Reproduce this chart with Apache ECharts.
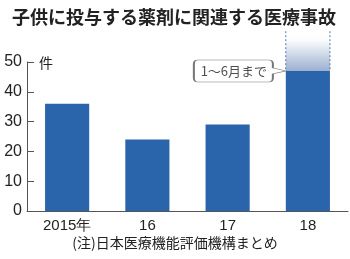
<!DOCTYPE html>
<html><head><meta charset="utf-8">
<script src="https://cdn.jsdelivr.net/npm/echarts@6/dist/echarts.min.js"></script>
<style>html,body{margin:0;padding:0;background:#fff}#c{width:350px;height:259px}</style>
</head><body><div id="c"></div>
<script>
const titleText = '子供に投与する薬剤に関連する医療事故';
const noteText = '(注)日本医療機能評価機構まとめ';
const unitText = '件';
const categories = ['2015年', '16', '17', '18'];
const values = [36, 24, 29, 47];
const partialNote = '1～6月まで';
const projectedTop = [null, null, null, 59];
const yTicks = [0, 10, 20, 30, 40, 50];

const BLUE = '#2a65ab';
const numFont = '"Liberation Sans Narrow","Liberation Sans",Arial,sans-serif';
const jpFont = '"Noto Sans CJK JP",sans-serif';

const chart = echarts.init(document.getElementById('c'), null, {renderer: 'canvas'});
const projData = projectedTop.map((t, i) => t == null ? null : [i, values[i], t]).filter(d => d);

chart.setOption({
  animation: false,
  title: [
    {text: titleText, left: 7, top: 3,
     textStyle: {fontFamily: jpFont, fontSize: 18, fontWeight: 'bold', color: '#222'}},
    {text: noteText, left: 'center', bottom: 4,
     textStyle: {fontFamily: jpFont, fontSize: 14, fontWeight: 'normal', color: '#222'}}
  ],
  grid: {left: 27, right: 2, top: 62, bottom: 48},
  xAxis: {
    type: 'category', data: categories,
    axisLine: {lineStyle: {color: '#555', width: 1}},
    axisTick: {show: false},
    axisLabel: {margin: 7, fontFamily: numFont, fontSize: 15, color: '#222'}
  },
  yAxis: {
    type: 'value', min: yTicks[0], max: yTicks[yTicks.length - 1], interval: 10,
    name: unitText, nameLocation: 'end', nameGap: -1,
    nameTextStyle: {fontFamily: jpFont, fontSize: 14, color: '#222', align: 'left', verticalAlign: 'middle', padding: [0, 0, 0, 12]},
    axisLine: {show: true, lineStyle: {color: '#555', width: 1}},
    axisTick: {show: true, inside: true, length: 7, lineStyle: {color: '#555'}},
    axisLabel: {margin: 5, fontFamily: numFont, fontSize: 16, color: '#222'},
    splitLine: {show: false}
  },
  series: [
    {
      type: 'bar', data: values, barWidth: '55%',
      itemStyle: {color: BLUE}
    },
    {
      type: 'custom', clip: false, z: 1,
      data: projData,
      renderItem: function (params, api) {
        const top = api.coord([api.value(0), api.value(2)]);
        const base = api.coord([api.value(0), api.value(1)]);
        const w = api.size([1, 0])[0] * 0.55;
        const x0 = top[0] - w / 2, x1 = top[0] + w / 2;
        return {
          type: 'group',
          children: [
            {type: 'rect', shape: {x: x0, y: top[1], width: w, height: base[1] - top[1]},
             style: {fill: new echarts.graphic.LinearGradient(0, 0, 0, 1, [
               {offset: 0, color: 'rgba(255,255,255,1)'},
               {offset: 0.15, color: 'rgba(250,251,253,1)'},
               {offset: 1, color: '#9bb0cf'}])}},
            {type: 'line', shape: {x1: x0, y1: top[1] - 4, x2: x0, y2: base[1]},
             style: {stroke: '#4f77b0', lineWidth: 1, lineDash: [2, 2]}},
            {type: 'line', shape: {x1: x1, y1: top[1] - 4, x2: x1, y2: base[1]},
             style: {stroke: '#4f77b0', lineWidth: 1, lineDash: [2, 2]}}
          ]
        };
      }
    },
    {
      type: 'scatter', z: 5, silent: true,
      data: [[categories[3], values[3]]],
      symbol: 'path://M4,0 L75,0 Q79,0 79,4 L79,8 L92,11 L79,14 L79,18 Q79,22 75,22 L4,22 Q0,22 0,18 L0,4 Q0,0 4,0 Z',
      symbolSize: [92, 22], symbolKeepAspect: false,
      symbolOffset: [-68, 0],
      itemStyle: {color: '#fff', borderColor: '#555', borderWidth: 1},
      label: {show: true, position: 'inside', offset: [-6, 0], formatter: partialNote,
              fontFamily: jpFont, fontSize: 13, color: '#222'}
    }
  ]
});
</script></body></html>
